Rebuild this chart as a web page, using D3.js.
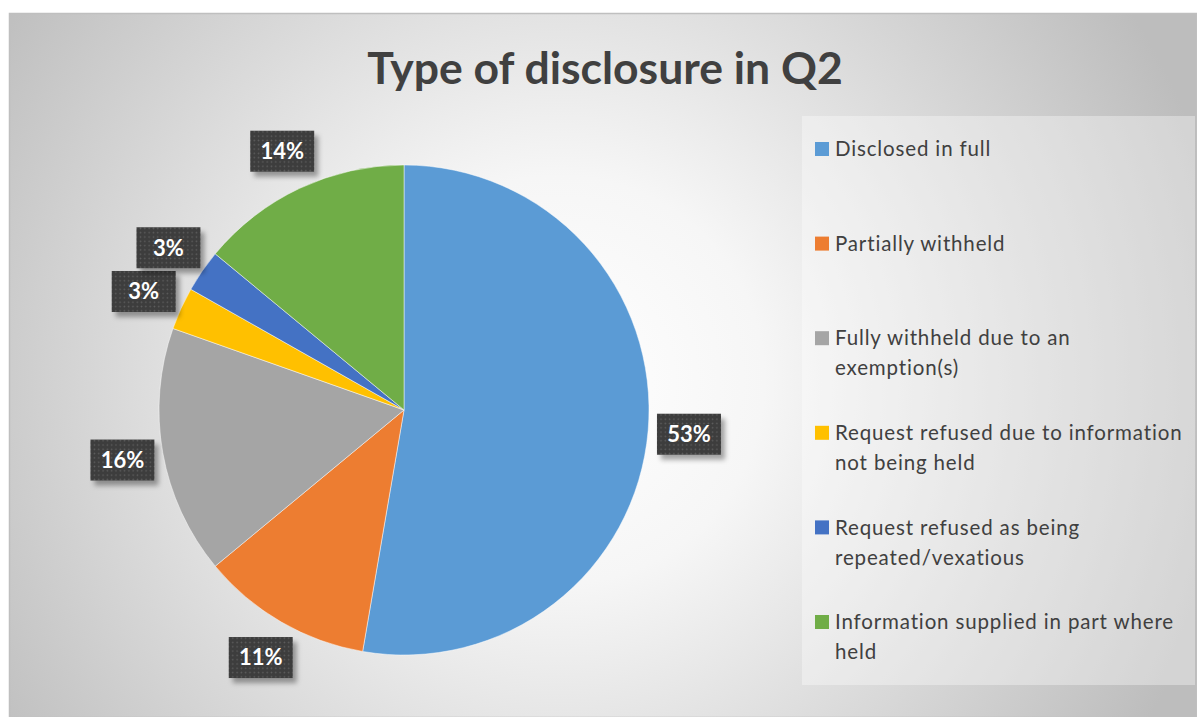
<!DOCTYPE html>
<html>
<head>
<meta charset="utf-8">
<script src="https://cdn.jsdelivr.net/npm/d3@7"></script>
<style>
  html, body { margin: 0; padding: 0; background: #ffffff; }
  svg { display: block; }
</style>
</head>
<body>
<svg id="chart" width="1197" height="717"></svg>
<script>
// ---- data ----
const titleText = "Type of disclosure in Q2";
const categories = [
  "Disclosed in full",
  "Partially withheld",
  "Fully withheld due to an exemption(s)",
  "Request refused due to information not being held",
  "Request refused as being repeated/vexatious",
  "Information supplied in part where held"
];
const shares = [52.7, 11.3, 16.4, 2.8, 2.8, 14.0];
const pctLabels = ["53%", "11%", "16%", "3%", "3%", "14%"];
const colors = ["#5B9BD5", "#ED7D31", "#A5A5A5", "#FFC000", "#4472C4", "#70AD47"];

// ---- layout ----
const W = 1197, H = 717;
const svg = d3.select("#chart");
const defs = svg.append("defs");

const bg = defs.append("radialGradient").attr("id", "bgGrad")
  .attr("gradientUnits", "userSpaceOnUse")
  .attr("cx", 560).attr("cy", 380).attr("r", 680);
bg.append("stop").attr("offset", 0).attr("stop-color", "#ffffff");
bg.append("stop").attr("offset", 0.3).attr("stop-color", "#f6f6f6");
bg.append("stop").attr("offset", 1).attr("stop-color", "#bdbdbd");

const pat = defs.append("pattern").attr("id", "dots")
  .attr("patternUnits", "userSpaceOnUse").attr("width", 4.3).attr("height", 4.3);
pat.append("rect").attr("width", 4.3).attr("height", 4.3).attr("fill", "#3c3c3c");
pat.append("circle").attr("cx", 2.15).attr("cy", 2.15).attr("r", 0.85).attr("fill", "#5e5e5e");

const shadow = defs.append("filter").attr("id", "shadow")
  .attr("x", "-30%").attr("y", "-30%").attr("width", "170%").attr("height", "180%");
shadow.append("feDropShadow").attr("dx", 4).attr("dy", 5).attr("stdDeviation", 2.5)
  .attr("flood-color", "#000").attr("flood-opacity", 0.35);

// background + border
svg.append("rect").attr("x", 9.5).attr("y", 13.5).attr("width", W - 10).attr("height", H - 13)
  .attr("fill", "url(#bgGrad)").attr("stroke", "#bfbfbf").attr("stroke-width", 1.5);

// title
svg.append("text").attr("x", 605).attr("y", 84)
  .attr("text-anchor", "middle")
  .attr("font-family", "Lato, 'Open Sans', sans-serif")
  .attr("font-weight", 700).attr("font-size", 44.5)
  .attr("fill", "#404040").text(titleText);

// pie
const cx = 404, cy = 410, R = 245, labelR = 286;
const pie = d3.pie().sort(null).value(d => d)(shares);
const arc = d3.arc().innerRadius(0).outerRadius(R);
const labelArc = d3.arc().innerRadius(labelR).outerRadius(labelR);

const g = svg.append("g").attr("transform", `translate(${cx},${cy})`);
g.selectAll("path.slice").data(pie).join("path")
  .attr("class", "slice")
  .attr("d", arc)
  .attr("fill", (d, i) => colors[i])
  .attr("stroke", "#ffffff").attr("stroke-opacity", 0.6).attr("stroke-width", 0.8);

// data labels
const bw = 64, bh = 41;
const lab = g.selectAll("g.lab").data(pie).join("g")
  .attr("class", "lab")
  .attr("transform", d => { const c = labelArc.centroid(d); return `translate(${c[0]},${c[1]})`; });
lab.append("rect")
  .attr("x", -bw / 2).attr("y", -bh / 2).attr("width", bw).attr("height", bh)
  .attr("fill", "url(#dots)").attr("filter", "url(#shadow)");
lab.append("text")
  .attr("text-anchor", "middle").attr("dy", "0.36em")
  .attr("font-family", "Lato, 'Open Sans', sans-serif")
  .attr("font-weight", 700).attr("font-size", 22)
  .attr("fill", "#ffffff")
  .text((d, i) => pctLabels[i]);

// legend panel
const lx = 802, ly = 116, lw = 393, lh = 569;
svg.append("rect").attr("x", lx).attr("y", ly).attr("width", lw).attr("height", lh)
  .attr("fill", "#ffffff").attr("fill-opacity", 0.35);

const ly0 = d3.scalePoint().domain(categories).range([149, 622]);
const maxTextW = 352, lineH = 30;
const leg = svg.append("g");
categories.forEach((c, i) => {
  const y = ly0(c);
  leg.append("rect").attr("x", 815).attr("y", y - 7).attr("width", 14).attr("height", 14)
    .attr("fill", colors[i]);
  const t = leg.append("text")
    .attr("font-family", "Lato, 'Open Sans', sans-serif")
    .attr("font-size", 20.5).attr("letter-spacing", 0.85).attr("fill", "#404040");
  // wrap words
  const words = c.split(" ");
  let line = [], lineNo = 0;
  let ts = t.append("tspan").attr("x", 835).attr("y", y).attr("dy", "0.35em");
  words.forEach(w => {
    line.push(w);
    ts.text(line.join(" "));
    if (ts.node().getComputedTextLength() > maxTextW && line.length > 1) {
      line.pop();
      ts.text(line.join(" "));
      line = [w];
      lineNo++;
      ts = t.append("tspan").attr("x", 835).attr("y", y + lineNo * lineH).attr("dy", "0.35em").text(w);
    }
  });
});
</script>
</body>
</html>
